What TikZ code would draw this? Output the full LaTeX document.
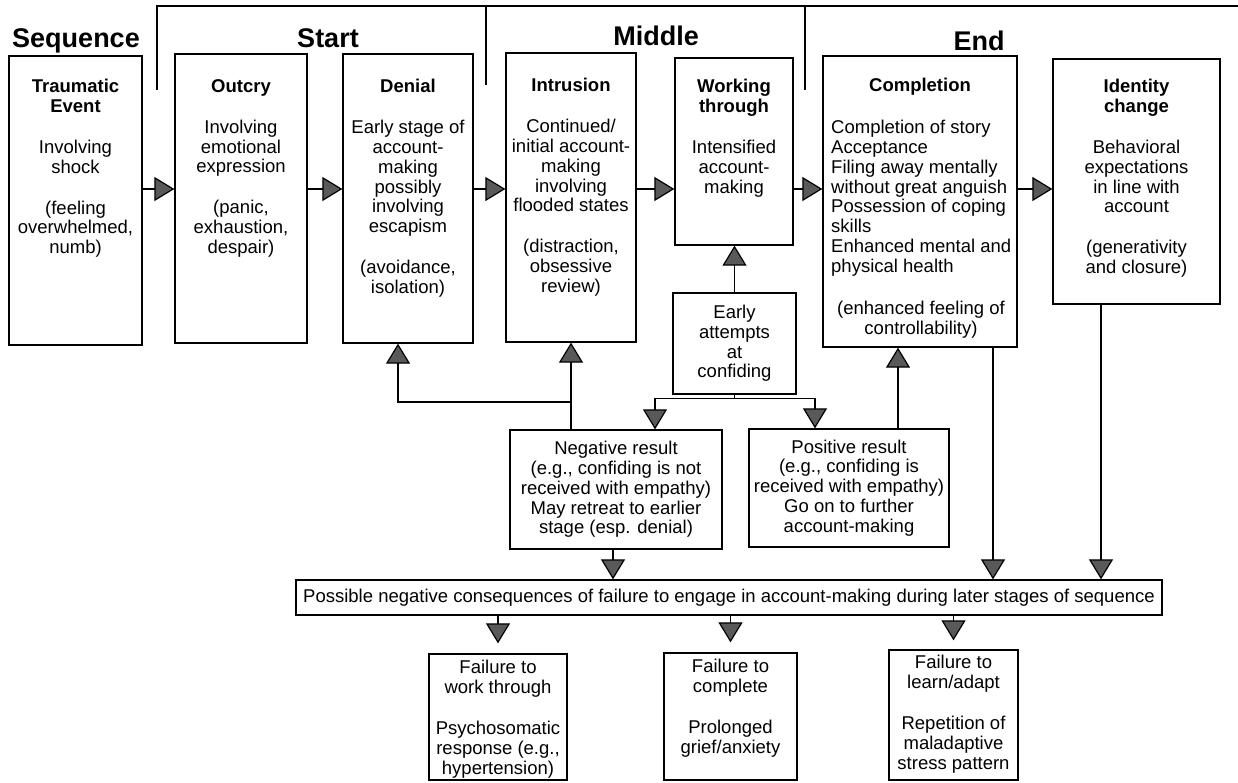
\documentclass[tikz,border=0pt]{standalone}
\usepackage{fontspec}
\setmainfont{Liberation Sans}
\usetikzlibrary{arrows.meta, positioning, calc}

\begin{document}
\begin{tikzpicture}[
				x=1pt, y=-1pt,
				every node/.style={font=\fontsize{18.5}{19.8}\selectfont},
				box/.style={rectangle, draw, line width=1.3pt, inner sep=0pt, align=center},
				txt/.style={align=center, inner sep=0pt},
				head/.style={font=\fontsize{27}{30}\selectfont\bfseries, anchor=base, inner sep=0pt},
				link/.style={line width=1.2pt},
				arrow/.style={line width=1.2pt, -{Triangle[length=20pt, width=24pt, fill=black!65]}}
				]
				\useasboundingbox (0,0) rectangle (1238,782);
				
				% --- Phase headings and bracket ---
				\node[head] (seqhead) at (76,47) {Sequence};
				\node[head] (starthead) at (328,47) {Start};
				\node[head] (midhead) at (656,45) {Middle};
				\node[head] (endhead) at (979,50) {End};
				\draw[link] (157,90) |- (1238,6);
				\draw[link] (486,6) -- (486,85);
				\draw[link] (805,6) -- (805,90);
				
				% --- Stage boxes ---
				\node[box, minimum width=133pt, minimum height=289pt] (trauma) at (75.5,200.5) {};
				\node[box, minimum width=132pt, minimum height=289pt] (outcry) at (241,198.5) {};
				\node[box, minimum width=130pt, minimum height=289pt] (denial) at (408,198.5) {};
				\node[box, minimum width=130pt, minimum height=289pt] (intrusion) at (571,197.5) {};
				\node[box, minimum width=118pt, minimum height=187pt] (working) at (734,151.5) {};
				\node[box, minimum width=194pt, minimum height=291pt] (completion) at (920,201.5) {};
				\node[box, minimum width=167pt, minimum height=245pt] (identity) at (1136.5,181.5) {};
				
				\node[txt, below=24pt of trauma.north] (traumatxt) {\textbf{Traumatic}\\\textbf{Event}\\[21pt]Involving\\shock\\[21pt](feeling\\overwhelmed,\\numb)};
				\node[txt, below=26pt of outcry.north] (outcrytxt) {\textbf{Outcry}\\[21pt]Involving\\emotional\\expression\\[21pt](panic,\\exhaustion,\\despair)};
				\node[txt, below=26pt of denial.north] (denialtxt) {\textbf{Denial}\\[21pt]Early stage of\\account-\\making\\possibly\\involving\\escapism\\[21pt](avoidance,\\isolation)};
				\node[txt, below=26pt of intrusion.north] (intrusiontxt) {\textbf{Intrusion}\\[21pt]Continued/\\initial account-\\making\\involving\\flooded states\\[21pt](distraction,\\obsessive\\review)};
				\node[txt, below=22pt of working.north] (workingtxt) {\textbf{Working}\\\textbf{through}\\[21pt]Intensified\\account-\\making};
				\node[txt, below=23pt of completion.north] (compltitle) {\textbf{Completion}};
				\node[txt, align=left, anchor=north west] (compllist) at (831,120) {Completion of story\\Acceptance\\Filing away mentally\\without great anguish\\Possession of coping\\skills\\Enhanced mental and\\physical health};
				\node[txt, anchor=north] (complnote) at (921,301) {(enhanced feeling of\\controllability)};
				\node[txt, below=21pt of identity.north] (identitytxt) {\textbf{Identity}\\\textbf{change}\\[21pt]Behavioral\\expectations\\in line with\\account\\[21pt](generativity\\and closure)};
				
				% --- Confiding branch ---
				\node[box, minimum width=123pt, minimum height=101pt] (early) at (734.5,343.5) {Early\\attempts\\at\\confiding};
				\node[box, minimum width=212pt, minimum height=119pt] (negative) at (616,489.5) {Negative result\\(e.g., confiding is not\\received with empathy)\\May retreat to earlier\\stage (esp. denial)};
				\node[box, minimum width=200pt, minimum height=118pt] (positive) at (849,488) {Positive result\\(e.g., confiding is\\received with empathy)\\Go on to further\\account-making};
				
				% --- Consequences ---
				\node[box, minimum width=866pt, minimum height=35pt] (conseq) at (729,597.5) {Possible negative consequences of failure to engage in account-making during later stages of sequence};
				\node[box, minimum width=138pt, minimum height=126pt] (failwork) at (498,717) {};
				\node[box, minimum width=133pt, minimum height=127pt] (failcomp) at (730.5,716.5) {};
				\node[box, minimum width=129pt, minimum height=130pt] (failadapt) at (953.5,715) {};
				\node[txt, below=7pt of failwork.north] (failworktxt) {Failure to\\work through\\[21pt]Psychosomatic\\response (e.g.,\\hypertension)};
				\node[txt, below=7pt of failcomp.north] (failcomptxt) {Failure to\\complete\\[21pt]Prolonged\\grief/anxiety};
				\node[txt, below=6pt of failadapt.north] (failadapttxt) {Failure to\\learn/adapt\\[21pt]Repetition of\\maladaptive\\stress pattern};
				
				% --- Main sequence arrows ---
				\coordinate (row) at (0,189);
				\draw[arrow] (trauma.east |- row) -- (outcry.west |- row);
				\draw[arrow] (outcry.east |- row) -- (denial.west |- row);
				\draw[arrow] (denial.east |- row) -- (intrusion.west |- row);
				\draw[arrow] (intrusion.east |- row) -- (working.west |- row);
				\draw[arrow] (working.east |- row) -- (completion.west |- row);
				\draw[arrow] (completion.east |- row) -- (identity.west |- row);
				
				% --- Feedback and branch arrows ---
				\coordinate (fork) at (571,402);
				\draw[arrow] (negative.north -| fork) -- (intrusion.south -| fork);
				\draw[arrow] (fork) -| ([xshift=-10pt]denial.south);
				\draw[arrow] (early.north) -- (early.north |- working.south);
				\draw[arrow] (early.south) -- ++(0,4) -| ([xshift=39pt]negative.north);
				\draw[arrow] (early.south) -- ++(0,4) -| ([xshift=-34pt]positive.north);
				\draw[arrow] ([xshift=49pt]positive.north) -- ([xshift=49pt]positive.north |- completion.south);
				
				% --- Into consequences ---
				\draw[arrow] ([xshift=-3pt]negative.south) -- ([xshift=-3pt]negative.south |- conseq.north);
				\draw[arrow] ([xshift=73pt]completion.south) -- ([xshift=73pt]completion.south |- conseq.north);
				\draw[arrow] ([xshift=-35.5pt]identity.south) -- ([xshift=-35.5pt]identity.south |- conseq.north);
				\draw[arrow, shorten >=10pt] (conseq.south -| failwork) -- (failwork.north);
				\draw[arrow, shorten >=10pt] (conseq.south -| failcomp) -- (failcomp.north);
				\draw[arrow, shorten >=9pt] (conseq.south -| failadapt) -- (failadapt.north);
			\end{tikzpicture}
\end{document}
